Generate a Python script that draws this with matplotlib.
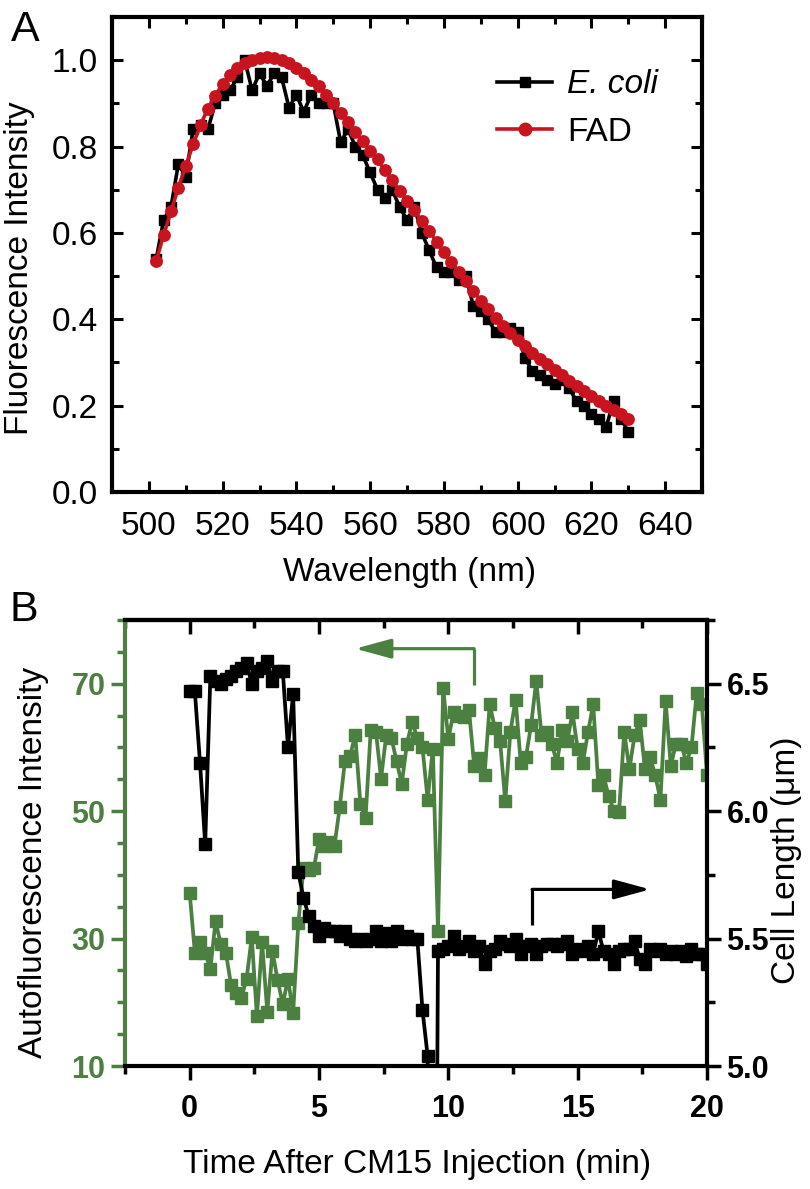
import numpy as np
import matplotlib
matplotlib.use('Agg')
import matplotlib.pyplot as plt
from matplotlib.ticker import MultipleLocator
from matplotlib.lines import Line2D

plt.rcParams['font.family'] = ['Liberation Sans', 'DejaVu Sans']

# ---- panel A: emission spectra ----
wavelength = np.arange(502, 631, 2)
fad = [0.535, 0.595, 0.65, 0.705, 0.755, 0.805, 0.85, 0.888, 0.918, 0.945,
       0.965, 0.982, 0.993, 1.0, 1.005, 1.007, 1.005, 1.0, 0.993, 0.983,
       0.97, 0.955, 0.94, 0.92, 0.9, 0.878, 0.856, 0.834, 0.812, 0.79,
       0.77, 0.745, 0.722, 0.698, 0.675, 0.652, 0.628, 0.605, 0.58, 0.555,
       0.532, 0.51, 0.488, 0.465, 0.443, 0.423, 0.403, 0.385, 0.368, 0.352,
       0.337, 0.323, 0.309, 0.296, 0.283, 0.27, 0.257, 0.245, 0.233, 0.222,
       0.211, 0.2, 0.19, 0.18, 0.17]
ecoli = [0.54, 0.63, 0.66, 0.76, 0.73, 0.84, 0.85, 0.84, 0.90, 0.92,
         0.93, 0.96, 1.00, 0.93, 0.97, 0.94, 0.97, 0.96, 0.89, 0.92,
         0.88, 0.92, 0.90, 0.90, 0.90, 0.81, 0.84, 0.80, 0.78, 0.74,
         0.70, 0.68, 0.70, 0.66, 0.63, 0.66, 0.60, 0.56, 0.52, 0.51,
         0.51, 0.49, 0.50, 0.43, 0.42, 0.40, 0.37, 0.37, 0.38, 0.37,
         0.31, 0.28, 0.27, 0.26, 0.25, 0.26, 0.24, 0.21, 0.20, 0.18,
         0.17, 0.15, 0.21, 0.17, 0.14]

# ---- panel B: time course ----
time_min = np.round(np.arange(0, 20.01, 0.2), 1)
autofluor = [37.2, 27.8, 29.5, 27.8, 25.2, 32.7, 29.2, 27.8, 22.7, 21.5,
             20.7, 23.7, 30.2, 17.8, 29.4, 18.5, 28.0, 23.5, 19.7, 23.7,
             18.3, 32.4, 41.1,
             40.7, 41.0, 45.6, 44.6, 45.1, 44.6, 50.6, 57.8, 58.6, 62.0,
             51.1, 48.9, 62.8, 62.5, 55.1, 62.0, 61.5, 57.8, 54.3, 60.6,
             64.0, 61.5, 60.0, 51.8, 59.8, 31.2, 69.3, 61.3, 65.5, 65.0,
             64.8, 65.8, 57.1, 58.3, 55.6, 66.8, 63.0, 61.0, 51.6, 62.5,
             67.5, 57.5, 58.5, 63.5, 70.5, 62.0, 62.5,
             60.5, 57.6, 62.7, 61.0, 65.5, 59.7, 57.6, 62.4, 66.8, 54.1,
             55.6, 52.3, 50.1, 49.9, 62.4, 56.6, 61.9, 64.3, 56.6, 58.5,
             55.6, 51.8, 67.3, 57.1, 60.6, 60.6, 57.6, 60.0, 68.5, 66.8,
             55.6]
cell_length = [6.47, 6.47, 6.19, 5.87, 6.53, 6.51, 6.50, 6.52, 6.53, 6.55,
               6.56, 6.58, 6.50, 6.55, 6.56, 6.59, 6.51, 6.55, 6.55, 6.25,
               6.46, 5.76, 5.66, 5.59,
               5.55, 5.51, 5.54, 5.53, 5.53, 5.51, 5.53, 5.50, 5.49, 5.50,
               5.49, 5.50, 5.53, 5.49, 5.52, 5.49, 5.53, 5.50, 5.51, 5.50,
               5.50, 5.22, 5.04, 2.0,
               5.45, 5.46, 5.47, 5.51, 5.46, 5.47, 5.49, 5.45, 5.47, 5.40,
               5.45, 5.46, 5.49, 5.48, 5.47, 5.50, 5.44, 5.47, 5.48, 5.44,
               5.47, 5.48, 5.48, 5.47, 5.48, 5.49, 5.44, 5.46, 5.45, 5.47,
               5.44, 5.53, 5.45, 5.44, 5.40, 5.45, 5.46, 5.46, 5.49, 5.42,
               5.40, 5.46, 5.45, 5.46, 5.44, 5.45, 5.44, 5.45, 5.43, 5.46,
               5.44, 5.44, 5.40]

# arrows (data coords) pointing to the matching axis
green_arrow = [(11.0, 69.8), (11.0, 75.5), (6.4, 75.5)]
black_arrow = [(13.24, 5.555), (13.24, 5.693), (17.8, 5.693)]

GREEN = '#4b8040'
RED = '#c8141e'
W, H = 810, 1189
TICK_FS = 24
LABEL_FS = 24
ARROW = '-|>,head_length=1.1,head_width=0.3'


def px_rect(left, top, right, bottom):
    return [left / W, 1 - bottom / H, (right - left) / W, (bottom - top) / H]


fig = plt.figure(figsize=(W / 100, H / 100), dpi=100)

# ================= A =================
axA = fig.add_axes(px_rect(112, 17, 702, 492))
axA.plot(wavelength, ecoli, color='black', lw=2.6, marker='s', ms=7.2, zorder=2)
axA.plot(wavelength, fad, color=RED, lw=2.6, marker='o', ms=8.2, zorder=3)
axA.set_xlim(490, 650)
axA.set_ylim(0, 1.1)
axA.xaxis.set_major_locator(MultipleLocator(20))
axA.xaxis.set_minor_locator(MultipleLocator(10))
axA.yaxis.set_minor_locator(MultipleLocator(0.1))
axA.set_yticks([0, 0.2, 0.4, 0.6, 0.8, 1.0])
axA.set_yticklabels(['0.0', '0.2', '0.4', '0.6', '0.8', '1.0'])
axA.tick_params(which='both', direction='in', top=True, right=True, width=2.2,
                labelsize=TICK_FS)
axA.tick_params(which='major', length=8)
axA.tick_params(which='minor', length=5)
axA.tick_params(axis='y', pad=10)
axA.tick_params(axis='x', pad=14)
for sp in axA.spines.values():
    sp.set_linewidth(3)

handles = [Line2D([], [], color='black', lw=2.6, marker='s', ms=7.5),
           Line2D([], [], color=RED, lw=2.6, marker='o', ms=9)]
leg = axA.legend(handles, ['E. coli', 'FAD'], loc='upper left',
                 bbox_to_anchor=(0.625, 0.925), frameon=False, fontsize=24,
                 handlelength=1.65, handletextpad=0.45, labelspacing=0.5,
                 borderpad=0)
leg.get_texts()[0].set_style('italic')

fig.text(20 / W, 1 - 268 / H, 'Fluorescence Intensity', rotation=90,
         ha='center', va='center', fontsize=LABEL_FS)
fig.text(410 / W, 1 - 572 / H, 'Wavelength (nm)', ha='center', va='center',
         fontsize=LABEL_FS)
fig.text(25 / W, 1 - 30 / H, 'A', ha='center', va='center', fontsize=31)

# ================= B =================
axB = fig.add_axes(px_rect(125, 620, 707, 1066))
axR = axB.twinx()
axB.plot(time_min, autofluor, color=GREEN, lw=2.7, marker='s', ms=8)
axR.plot(time_min, cell_length, color='black', lw=2.7, marker='s', ms=8)

axB.set_xlim(-2.5, 20)
axB.set_ylim(10, 80)
axR.set_ylim(5.0, 6.75)

axB.xaxis.set_major_locator(MultipleLocator(5))
axB.xaxis.set_minor_locator(MultipleLocator(2.5))
axB.set_yticks([10, 30, 50, 70])
axB.yaxis.set_minor_locator(MultipleLocator(5))
axR.set_yticks([5.0, 5.5, 6.0, 6.5])
axR.set_yticklabels(['5.0', '5.5', '6.0', '6.5'])
axR.yaxis.set_minor_locator(MultipleLocator(0.25))

axB.tick_params(axis='x', which='both', direction='out', top=False,
                width=2.5, labelsize=22, pad=10)
axB.tick_params(axis='y', which='both', direction='out', color=GREEN,
                labelcolor=GREEN, width=2.5, labelsize=22, pad=4)
axR.tick_params(axis='y', which='both', direction='out', width=2.5,
                labelsize=22, pad=4)
for a in (axB, axR):
    a.tick_params(which='major', length=10)
    a.tick_params(which='minor', length=6)
for lab in axB.get_xticklabels() + axB.get_yticklabels() + axR.get_yticklabels():
    lab.set_fontweight('bold')

top = axB.secondary_xaxis('top')
top.xaxis.set_major_locator(MultipleLocator(5))
top.xaxis.set_minor_locator(MultipleLocator(2.5))
top.tick_params(which='both', direction='in', width=2.5, labeltop=False)
top.tick_params(which='major', length=10)
top.tick_params(which='minor', length=6)
top.spines['top'].set_linewidth(3)

axB.spines['left'].set_color(GREEN)
axB.spines['right'].set_visible(False)
axR.spines['left'].set_visible(False)
axR.spines['top'].set_visible(False)
axR.spines['bottom'].set_visible(False)
for sp in ('left', 'top', 'bottom'):
    axB.spines[sp].set_linewidth(3)
axR.spines['right'].set_linewidth(3)

gx, gy = zip(*green_arrow)
axB.plot(gx[:2], gy[:2], color=GREEN, lw=2.3, solid_capstyle='butt')
axB.annotate('', xy=green_arrow[2], xytext=green_arrow[1],
             arrowprops=dict(arrowstyle=ARROW, color=GREEN, lw=2.3,
                             shrinkA=0, shrinkB=0, mutation_scale=20))
bx, by = zip(*black_arrow)
axR.plot(bx[:2], by[:2], color='black', lw=2.3, solid_capstyle='butt')
axR.annotate('', xy=black_arrow[2], xytext=black_arrow[1],
             arrowprops=dict(arrowstyle=ARROW, color='black', lw=2.3,
                             shrinkA=0, shrinkB=0, mutation_scale=20))

fig.text(34 / W, 1 - 862 / H, 'Autofluorescence Intensity', rotation=90,
         ha='center', va='center', fontsize=LABEL_FS)
fig.text(786 / W, 1 - 860 / H, 'Cell Length (\u03bcm)', rotation=90,
         ha='center', va='center', fontsize=LABEL_FS)
fig.text(417 / W, 1 - 1165 / H, 'Time After CM15 Injection (min)',
         ha='center', va='center', fontsize=LABEL_FS)
fig.text(24 / W, 1 - 610 / H, 'B', ha='center', va='center', fontsize=31)

fig.savefig('out.png', dpi=100)
